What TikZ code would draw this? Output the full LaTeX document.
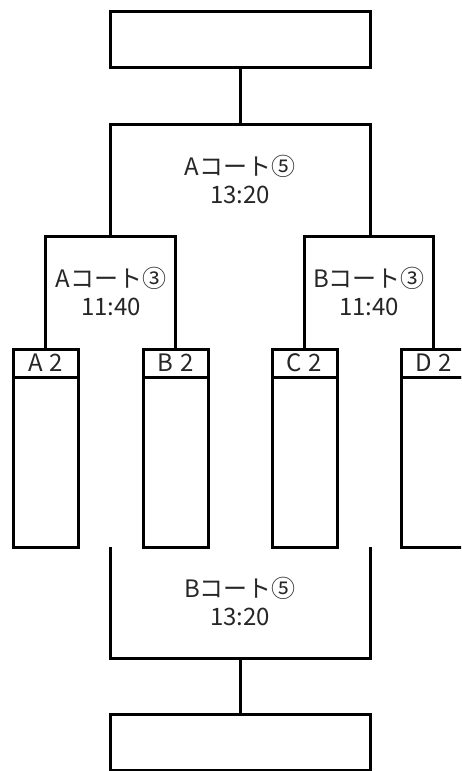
\documentclass[tikz,border=0pt]{standalone}
\usepackage{fontspec}
\setmainfont{Noto Sans CJK JP}
\begin{document}
\begin{tikzpicture}[x=1pt,y=-1pt,
  ln/.style={line width=3pt,black},
  bigbox/.style={ln,draw,rectangle,minimum width=260pt,minimum height=56pt,inner sep=0pt,outer sep=0pt},
  hdr/.style={ln,draw,rectangle,minimum width=65pt,minimum height=28pt,inner sep=0pt,outer sep=0pt,anchor=north,
    font=\fontsize{24}{28}\selectfont,text=black!85},
  body/.style={ln,draw,rectangle,minimum width=65pt,minimum height=170pt,inner sep=0pt,outer sep=0pt,anchor=north},
  lbl/.style={align=center,inner sep=0pt,font=\fontsize{24}{28}\selectfont,text=black!85}]
\useasboundingbox (0,0) rectangle (461,771);
\clip (0,0) rectangle (461,771);
% boxes
\node[bigbox] (top) at (240,39) {};
\node[bigbox] (bot) at (240,742.5) {};
\node[hdr] (a2h) at (45.5,349) {A\kern7pt2};
\node[body] (a2b) at (a2h.south) {};
\node[hdr] (b2h) at (175.5,349) {B\kern7pt2};
\node[body] (b2b) at (b2h.south) {};
\node[hdr] (c2h) at (304.5,349) {C\kern7pt2};
\node[body] (c2b) at (c2h.south) {};
\node[hdr] (d2h) at (433.5,349) {D\kern7pt2};
\node[body] (d2b) at (d2h.south) {};
% bracket points
\coordinate (fa) at (240,124);
\coordinate (qa) at (110,236);
\coordinate (qb) at (370,236);
\coordinate (la) at (111,236);
\coordinate (ra) at (369,236);
\coordinate (pa) at (110,547);
\coordinate (pb) at (370,547);
\coordinate (fb) at (240,658);
% connectors
\draw[ln] (top.south) -- (fa);
\draw[ln] (qa) |- (fa) -| (qb);
\draw[ln] (a2h.north) |- (la) -| (b2h.north);
\draw[ln] (c2h.north) |- (ra) -| (d2h.north);
\draw[ln] (pa) |- (fb) -| (pb);
\draw[ln] (fb) -- (bot.north);
% labels
\node[lbl] (tA5) at (240,180) {Aコート⑤\\13:20};
\node[lbl] (tA3) at (111,291.5) {Aコート③\\11:40};
\node[lbl] (tB3) at (369,291.5) {Bコート③\\11:40};
\node[lbl] (tB5) at (240,601) {Bコート⑤\\13:20};
\end{tikzpicture}
\end{document}
